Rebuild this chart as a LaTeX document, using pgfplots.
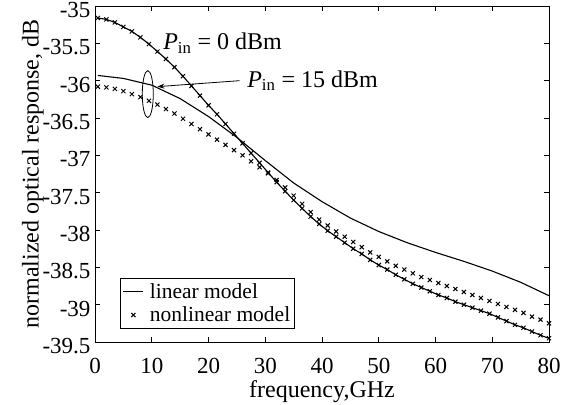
\documentclass[border=0pt]{standalone}
\usepackage{fontspec}
\setmainfont{Liberation Serif}
\usepackage{pgfplots}
\pgfplotsset{compat=1.18}
\usepackage{pgfplotstable}
\usetikzlibrary{arrows.meta}

\pgfplotsset{
  linelegend/.style={legend image code/.code={\draw[##1] (4pt,0pt) -- (24pt,0pt);}},
  marklegend/.style={legend image code/.code={\path[draw=none] (4pt,-1pt) rectangle (24pt,1pt); \draw[##1] plot coordinates {(14pt,0pt)};}},
}

\pgfplotstableread{
f y
0.5 -35.16
2 -35.18
3.5 -35.22
5 -35.28
6.5 -35.34
8 -35.42
9.5 -35.51
11 -35.61
12.5 -35.71
14 -35.82
15.5 -35.94
17 -36.07
18.5 -36.20
20 -36.33
21.5 -36.45
23 -36.58
24.5 -36.71
26 -36.84
27.5 -36.97
29 -37.10
30.5 -37.23
32 -37.36
33.5 -37.48
35 -37.60
36.5 -37.71
38 -37.82
39.5 -37.92
41 -38.01
42.5 -38.09
44 -38.17
45.5 -38.25
47 -38.32
48.5 -38.40
50 -38.47
51.5 -38.53
53 -38.60
54.5 -38.66
56 -38.72
57.5 -38.77
59 -38.82
60.5 -38.87
62 -38.91
63.5 -38.96
65 -39.00
66.5 -39.04
68 -39.08
69.5 -39.12
71 -39.17
72.5 -39.22
74 -39.27
75.5 -39.31
77 -39.36
78.5 -39.41
80 -39.45
}\pinzero

\pgfplotstableread{
f y
0.5 -36.08
2 -36.09
3.5 -36.11
5 -36.14
6.5 -36.18
8 -36.22
9.5 -36.27
11 -36.32
12.5 -36.38
14 -36.44
15.5 -36.51
17 -36.58
18.5 -36.65
20 -36.72
21.5 -36.79
23 -36.86
24.5 -36.93
26 -37.00
27.5 -37.08
29 -37.16
30.5 -37.24
32 -37.33
33.5 -37.43
35 -37.54
36.5 -37.65
38 -37.76
39.5 -37.86
41 -37.94
42.5 -38.02
44 -38.09
45.5 -38.16
47 -38.23
48.5 -38.30
50 -38.36
51.5 -38.42
53 -38.48
54.5 -38.53
56 -38.58
57.5 -38.63
59 -38.67
60.5 -38.71
62 -38.75
63.5 -38.79
65 -38.83
66.5 -38.87
68 -38.91
69.5 -38.95
71 -38.99
72.5 -39.03
74 -39.07
75.5 -39.11
77 -39.16
78.5 -39.20
80 -39.25
}\pinfifteennl

\pgfplotstableread{
f y
0.5 -35.93
5 -35.97
10 -36.06
15 -36.24
20 -36.48
25 -36.76
30 -37.07
35 -37.37
40 -37.62
45 -37.84
50 -38.02
55 -38.17
60 -38.30
65 -38.42
70 -38.55
75 -38.70
80 -38.88
}\pinfifteenlin

\begin{document}
\begin{tikzpicture}
\begin{axis}[
  scale only axis,
  width=454pt, height=336pt,
  xmin=0, xmax=80, ymin=-39.5, ymax=-35,
  xtick={0,10,...,80},
  ytick={-39.5,-39,-38.5,-38,-37.5,-37,-36.5,-36,-35.5,-35},
  yticklabels={-39.5,-39,-38.5,-38,-37.5,-37,-36.5,-36,-35.5,-35},
  /pgf/number format/assume math mode=true,
  tick align=inside,
  major tick length=5pt,
  tick style={black, line width=0.6pt},
  axis line style={line width=0.8pt},
  ticklabel style={font=\fontsize{23}{26}\selectfont},
  xticklabel style={anchor=base, yshift=-31pt},
  yticklabel style={yshift=-4pt, xshift=-1pt, inner ysep=1pt},
  xlabel={frequency,GHz},
  ylabel={normalized optical response, dB},
  label style={font=\fontsize{24}{27}\selectfont},
  xlabel style={at={(axis description cs:0.5,0)}, anchor=base, yshift=-55pt},
  ylabel style={yshift=-8pt},
  clip=false,
  legend style={at={(0.054,0.04)}, anchor=south west,
    font=\fontsize{21.5}{24}\selectfont, draw=black, line width=0.6pt,
    inner xsep=3pt, inner ysep=4pt, row sep=5pt, column sep=5pt,
    nodes={inner sep=1pt}},
  legend cell align=left,
]
\addplot[black, line width=1.1pt, linelegend] table {\pinfifteenlin};
\addlegendentry{linear model}
\addplot[black, only marks, mark=x, mark size=2.9pt, mark options={line width=1pt}, marklegend] table {\pinzero};
\addlegendentry{nonlinear model}
\addplot[black, line width=1.1pt, forget plot] table {\pinzero};
\addplot[black, only marks, mark=x, mark size=2.9pt, mark options={line width=1pt}, forget plot] table {\pinfifteennl};

\node[anchor=west, font=\fontsize{24}{27}\selectfont, inner sep=0pt] at (axis cs:12,-35.5) {\textit{P}\textsubscript{in} = 0 dBm};
\node[anchor=west, font=\fontsize{24}{27}\selectfont, inner sep=0pt] at (axis cs:26.8,-36.0) {\textit{P}\textsubscript{in} = 15 dBm};
\draw[black, line width=0.8pt] (axis cs:9.3,-36.18) ellipse [x radius=5.5pt, y radius=23.5pt];
\draw[black, line width=0.8pt, -{Stealth[length=7pt,width=5pt]}] (axis cs:25.5,-36.0) -- (axis cs:11.0,-36.08);
\end{axis}
\pgfresetboundingbox
\path ([xshift=-95pt,yshift=-62pt]current axis.south west) rectangle ([xshift=26pt,yshift=6pt]current axis.north east);
\end{tikzpicture}
\end{document}
